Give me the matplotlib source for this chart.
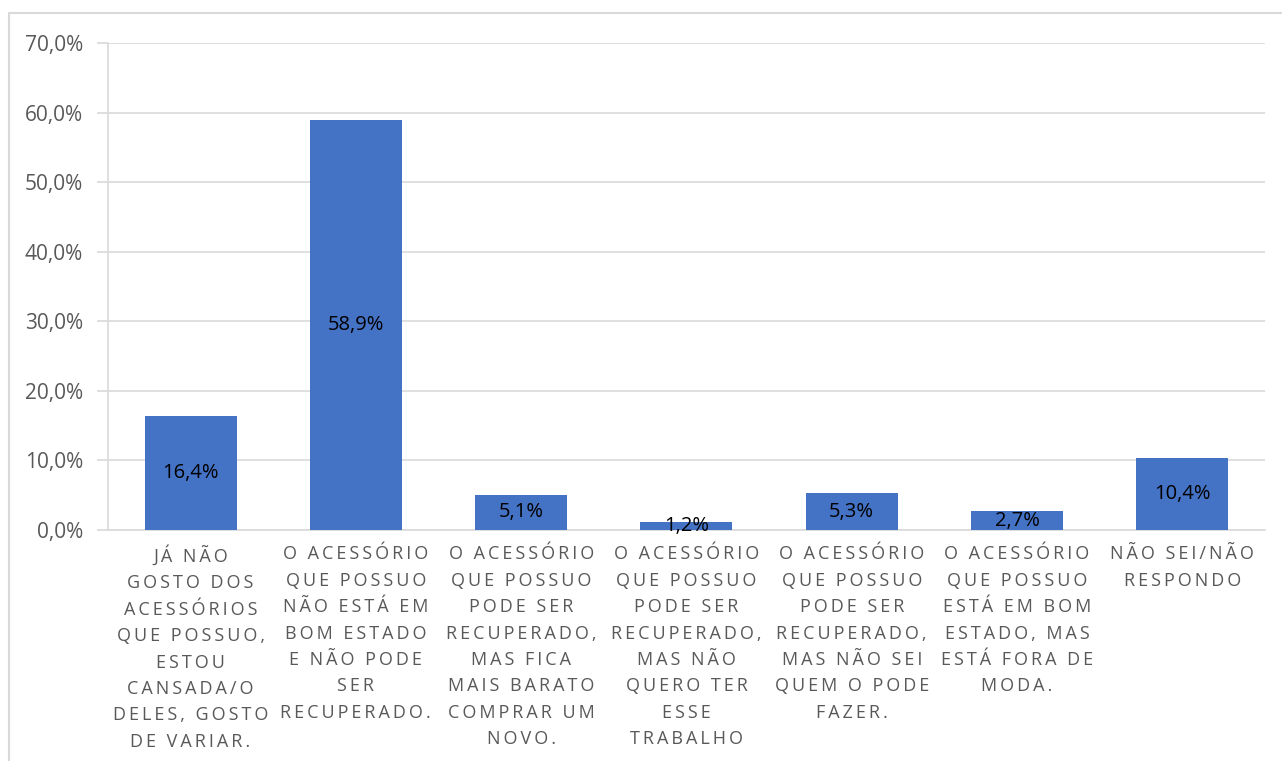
"""Bar chart: reasons for discarding accessories (percent of answers)."""

import matplotlib

matplotlib.use("Agg")
import matplotlib.pyplot as plt
from matplotlib.patches import Rectangle
from matplotlib.ticker import FuncFormatter

categories = [
    "JÁ NÃO\nGOSTO DOS\nACESSÓRIOS\nQUE POSSUO,\nESTOU\nCANSADA/O\nDELES, GOSTO\nDE VARIAR.",
    "O ACESSÓRIO\nQUE POSSUO\nNÃO ESTÁ EM\nBOM ESTADO\nE NÃO PODE\nSER\nRECUPERADO.",
    "O ACESSÓRIO\nQUE POSSUO\nPODE SER\nRECUPERADO,\nMAS FICA\nMAIS BARATO\nCOMPRAR UM\nNOVO.",
    "O ACESSÓRIO\nQUE POSSUO\nPODE SER\nRECUPERADO,\nMAS NÃO\nQUERO TER\nESSE\nTRABALHO",
    "O ACESSÓRIO\nQUE POSSUO\nPODE SER\nRECUPERADO,\nMAS NÃO SEI\nQUEM O PODE\nFAZER.",
    "O ACESSÓRIO\nQUE POSSUO\nESTÁ EM BOM\nESTADO, MAS\nESTÁ FORA DE\nMODA.",
    "NÃO SEI/NÃO\nRESPONDO",
]
values = [16.4, 58.9, 5.1, 1.2, 5.3, 2.7, 10.4]
y_ticks = [0, 10, 20, 30, 40, 50, 60, 70]

BAR_COLOR = "#4472C4"
GRID_COLOR = "#d9d9d9"
TEXT_GRAY = "#595959"
FONT = ["Open Sans", "DejaVu Sans"]


def spaced(text: str) -> str:
    # Excel draws these axis labels with extra letter spacing
    out = []
    for line in text.split("\n"):
        out.append("\u2009".join(line))
    return "\n".join(out)


def pct(v: float) -> str:
    return f"{v:.1f}%".replace(".", ",")


fig = plt.figure(figsize=(12.82, 7.61), dpi=100)
ax = fig.add_axes([0.0842, 0.3035, 0.9025, 0.64])

x = list(range(len(values)))
ax.bar(x, values, width=0.557, color=BAR_COLOR, zorder=3)

for xi, v in zip(x, values):
    ax.text(xi, v / 2, pct(v), ha="center", va="center", fontsize=14.5,
            color="black", family=FONT, zorder=4)

ax.set_xlim(-0.5, len(values) - 0.5)
ax.set_ylim(0, 70)
ax.set_yticks(y_ticks)
ax.yaxis.set_major_formatter(FuncFormatter(lambda v, _: pct(v)))
ax.grid(axis="y", color=GRID_COLOR, linewidth=1.2, zorder=0)
ax.tick_params(axis="y", length=8, color=GRID_COLOR, width=1.2,
               labelsize=15, labelcolor=TEXT_GRAY, pad=10)
for lbl in ax.get_yticklabels():
    lbl.set_family(FONT)

ax.set_xticks(x)
ax.set_xticklabels([spaced(c) for c in categories], family=FONT,
                   fontsize=13, color=TEXT_GRAY, linespacing=1.6,
                   va="top")
ax.tick_params(axis="x", length=0, pad=11)

for side in ("top", "right"):
    ax.spines[side].set_visible(False)
for side in ("left", "bottom"):
    ax.spines[side].set_color(GRID_COLOR)
    ax.spines[side].set_linewidth(1.2)

# outer chart border
fig.patches.append(Rectangle((9 / 1282, -0.01), 1.0, 1 - 13 / 761 + 0.01,
                             transform=fig.transFigure, fill=False,
                             edgecolor=GRID_COLOR, linewidth=1.5))

fig.savefig("out.png", dpi=100)
